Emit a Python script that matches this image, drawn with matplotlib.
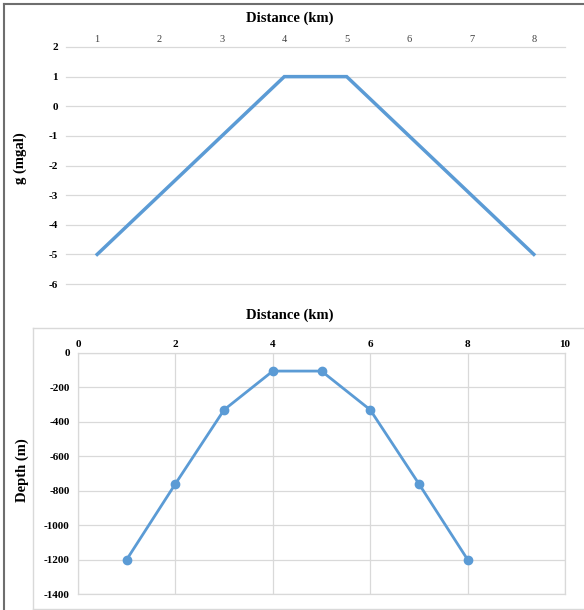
import matplotlib
matplotlib.use("Agg")
import matplotlib.pyplot as plt
from matplotlib.lines import Line2D

# --- data ---
gravity_cats = [1, 2, 3, 4, 5, 6, 7, 8]
gravity_vals = [-5, -3, -1, 1, 1, -1, -3, -5]

depth_x = [1, 2, 3, 4, 5, 6, 7, 8]
depth_vals = [-1200, -760, -330, -105, -105, -330, -760, -1200]

grav_yticks = [-6, -5, -4, -3, -2, -1, 0, 1, 2]
depth_xticks = [0, 2, 4, 6, 8, 10]
depth_yticks = [0, -200, -400, -600, -800, -1000, -1200, -1400]

plt.rcParams['font.family'] = ['Liberation Serif', 'DejaVu Serif']
plt.rcParams['axes.unicode_minus'] = False
BLUE = '#5b9bd5'
GRID = '#d9d9d9'
W, H = 584, 610

fig = plt.figure(figsize=(W / 100, H / 100), dpi=100)
fig.patch.set_facecolor('white')


def px(x0, y0, x1, y1):
    # pixel box -> figure fraction [left, bottom, width, height]
    return [x0 / W, 1 - y1 / H, (x1 - x0) / W, (y1 - y0) / H]


# --- frame decorations ---
fig.add_artist(Line2D([4 / W, 1], [1 - 4 / H, 1 - 4 / H], color='#6e6e6e', lw=1.5))
fig.add_artist(Line2D([4 / W, 4 / W], [0, 1 - 4 / H], color='#6e6e6e', lw=1.5))
fig.add_artist(Line2D([33 / W, 1], [1 - 328 / H, 1 - 328 / H], color=GRID, lw=1))
fig.add_artist(Line2D([33 / W, 33 / W], [1 - 609 / H, 1 - 328 / H], color=GRID, lw=1))
fig.add_artist(Line2D([33 / W, 1], [1 - 609 / H, 1 - 609 / H], color=GRID, lw=1))

# --- top: gravity ---
ax1 = fig.add_axes(px(66, 47, 565, 284))
ax1.plot(gravity_cats, gravity_vals, color=BLUE, lw=2.5, solid_joinstyle='miter')
ax1.set_xlim(0.5, 8.5)
ax1.set_ylim(-6, 2)
ax1.set_xticks(gravity_cats)
ax1.set_yticks(grav_yticks)
ax1.xaxis.tick_top()
ax1.tick_params(axis='x', length=0, labelsize=7.5, labelcolor='#404040', pad=2)
ax1.tick_params(axis='y', length=0, labelsize=8, pad=6)
for lab in ax1.get_yticklabels():
    lab.set_fontweight('bold')
ax1.grid(axis='y', color=GRID, lw=0.9)
for gl in ax1.get_ygridlines():
    gl.set_clip_on(False)
ax1.set_axisbelow(True)
for s in ax1.spines.values():
    s.set_visible(False)

fig.text(290 / W, 1 - 18 / H, 'Distance (km)', ha='center', va='center',
         fontsize=10.5, fontweight='bold')
fig.text(20 / W, 1 - 158 / H, 'g (mgal)', ha='center', va='center',
         rotation=90, fontsize=10.5, fontweight='bold')

# --- bottom: depth ---
ax2 = fig.add_axes(px(78, 353, 565, 594))
ax2.plot(depth_x, depth_vals, color=BLUE, lw=2, marker='o', markersize=6)
ax2.set_xlim(0, 10)
ax2.set_ylim(-1400, 0)
ax2.set_xticks(depth_xticks)
ax2.set_yticks(depth_yticks)
ax2.xaxis.tick_top()
ax2.tick_params(axis='both', length=0, labelsize=8)
ax2.tick_params(axis='x', pad=3)
ax2.tick_params(axis='y', pad=6)
for lab in ax2.get_xticklabels() + ax2.get_yticklabels():
    lab.set_fontweight('bold')
ax2.grid(True, color=GRID, lw=0.9)
ax2.set_axisbelow(True)
for s in ax2.spines.values():
    s.set_color(GRID)
    s.set_linewidth(0.9)

fig.text(290 / W, 1 - 315 / H, 'Distance (km)', ha='center', va='center',
         fontsize=10.5, fontweight='bold')
fig.text(22 / W, 1 - 470 / H, 'Depth (m)', ha='center', va='center',
         rotation=90, fontsize=10.5, fontweight='bold')

fig.savefig('out.png', dpi=100)
